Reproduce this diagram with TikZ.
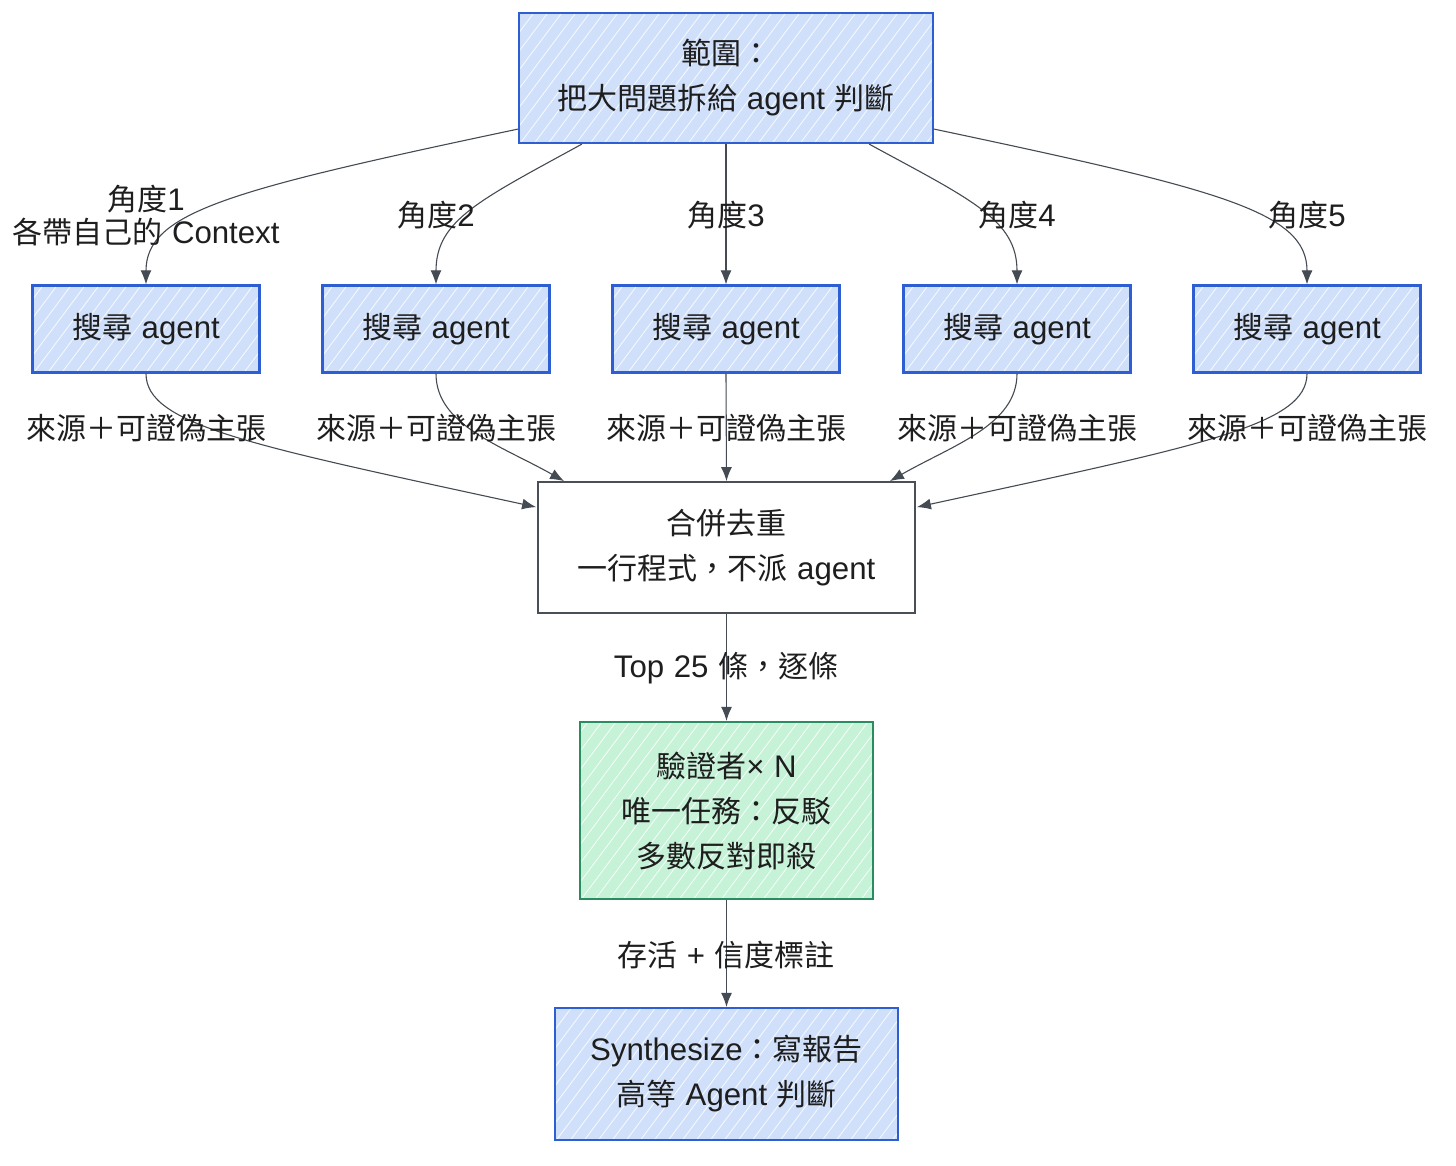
\documentclass[tikz,border=0pt]{standalone}
\usepackage{fontspec}
\setmainfont{Noto Sans CJK TC}
\newfontfamily\lat[Scale=1.04,WordSpace=1.1]{Liberation Sans}
\newcommand{\La}[1]{{\lat #1}}
\usetikzlibrary{arrows.meta,calc}
\definecolor{blueF}{HTML}{D0E0FA}
\definecolor{blueB}{HTML}{2D5ED2}
\definecolor{greenF}{HTML}{C6F2D8}
\definecolor{greenB}{HTML}{2B8C62}
\definecolor{grayB}{HTML}{4A4F55}
\definecolor{edgeC}{HTML}{454B52}
\definecolor{txt}{HTML}{1E1E1E}
\tikzset{
  hatch/.style={path picture={
    \foreach \k in {-12,...,32}
      \draw[white, line width=0.8pt, opacity=0.85]
        ($(path picture bounding box.south west)+(\k*14pt,-2pt)$) -- ++(160pt,214pt);
  }},
  basebox/.style={align=center, inner sep=0pt, text=txt,
    font=\fontsize{30}{45}\selectfont},
  bluebox/.style={basebox, draw=blueB, line width=2.2pt, fill=blueF, hatch},
  greenbox/.style={basebox, draw=greenB, line width=2.2pt, fill=greenF, hatch},
  graybox/.style={basebox, draw=grayB, line width=1.8pt, fill=white},
  lbl/.style={align=center, inner sep=0pt, text=txt,
    font=\fontsize{30}{33}\selectfont},
  conn/.style={draw=edgeC, line width=1.1pt, -{Latex[length=14pt,width=11pt]}},
}
\begin{document}
\begin{tikzpicture}[x=1pt,y=-1pt]
\fill[white] (0,0) rectangle (1456,1166);
\useasboundingbox (0,0) rectangle (1456,1166);

% boxes
\node[bluebox, minimum width=414, minimum height=130] (top) at (726,78)
  {範圍：\\把大問題拆給\La{ agent }判斷};
\foreach \n/\x in {s1/146, s2/436, s3/726, s4/1017, s5/1307}
  \node[bluebox, minimum width=227, minimum height=87] (\n) at (\x,329) {搜尋\La{ agent}};
\node[graybox, minimum width=377, minimum height=131] (merge) at (726.5,547.5)
  {合併去重\\一行程式，不派\La{ agent}};
\node[greenbox, minimum width=293, minimum height=177] (ver) at (726.5,810.5)
  {驗證者\La{× N}\\唯一任務：反駁\\多數反對即殺};
\node[bluebox, minimum width=343, minimum height=132] (syn) at (726.5,1074)
  {\La{Synthesize}：寫報告\\高等\La{ Agent }判斷};

% top -> search edges
\draw[conn] ($(top.south west)+(0,-15)$) .. controls (230,190) and (146,212) .. (s1.north);
\draw[conn] ($(top.south west)+(64,0)$) .. controls (480,200) and (436,220) .. (s2.north);
\draw[conn] (top.south) -- (s3.north);
\draw[conn] ($(top.south east)+(-65,0)$) .. controls (972,200) and (1017,220) .. (s4.north);
\draw[conn] ($(top.south east)+(0,-15)$) .. controls (1222,190) and (1307,212) .. (s5.north);

% search -> merge edges
\draw[conn] (s1.south) .. controls (146,425) and (250,445) .. ($(merge.north west)+(-1,26)$);
\draw[conn] (s2.south) .. controls (436,425) and (500,445) .. ($(merge.north west)+(27,0)$);
\draw[conn] (s3.south) -- (merge.north);
\draw[conn] (s4.south) .. controls (1017,425) and (953,445) .. ($(merge.north east)+(-26,0)$);
\draw[conn] (s5.south) .. controls (1307,425) and (1203,445) .. ($(merge.north east)+(1,26)$);

\draw[conn] (merge.south) -- (ver.north);
\draw[conn] (ver.south) -- (syn.north);

% labels
\node[lbl] (a1) at (146,216) {角度\La{1}\\各帶自己的\La{ Context}};
\node[lbl] (a2) at (436,215) {角度\La{2}};
\node[lbl] (a3) at (726,215) {角度\La{3}};
\node[lbl] (a4) at (1017,215) {角度\La{4}};
\node[lbl] (a5) at (1307,215) {角度\La{5}};
\foreach \n/\x in {b1/146, b2/436, b3/726, b4/1017, b5/1307}
  \node[lbl] (\n) at (\x,428) {來源＋可證偽主張};
\node[lbl] (top25) at (726,668) {\La{Top 25 }條，逐條};
\node[lbl] (surv) at (726,955) {存活\La{ + }信度標註};
\end{tikzpicture}
\end{document}
